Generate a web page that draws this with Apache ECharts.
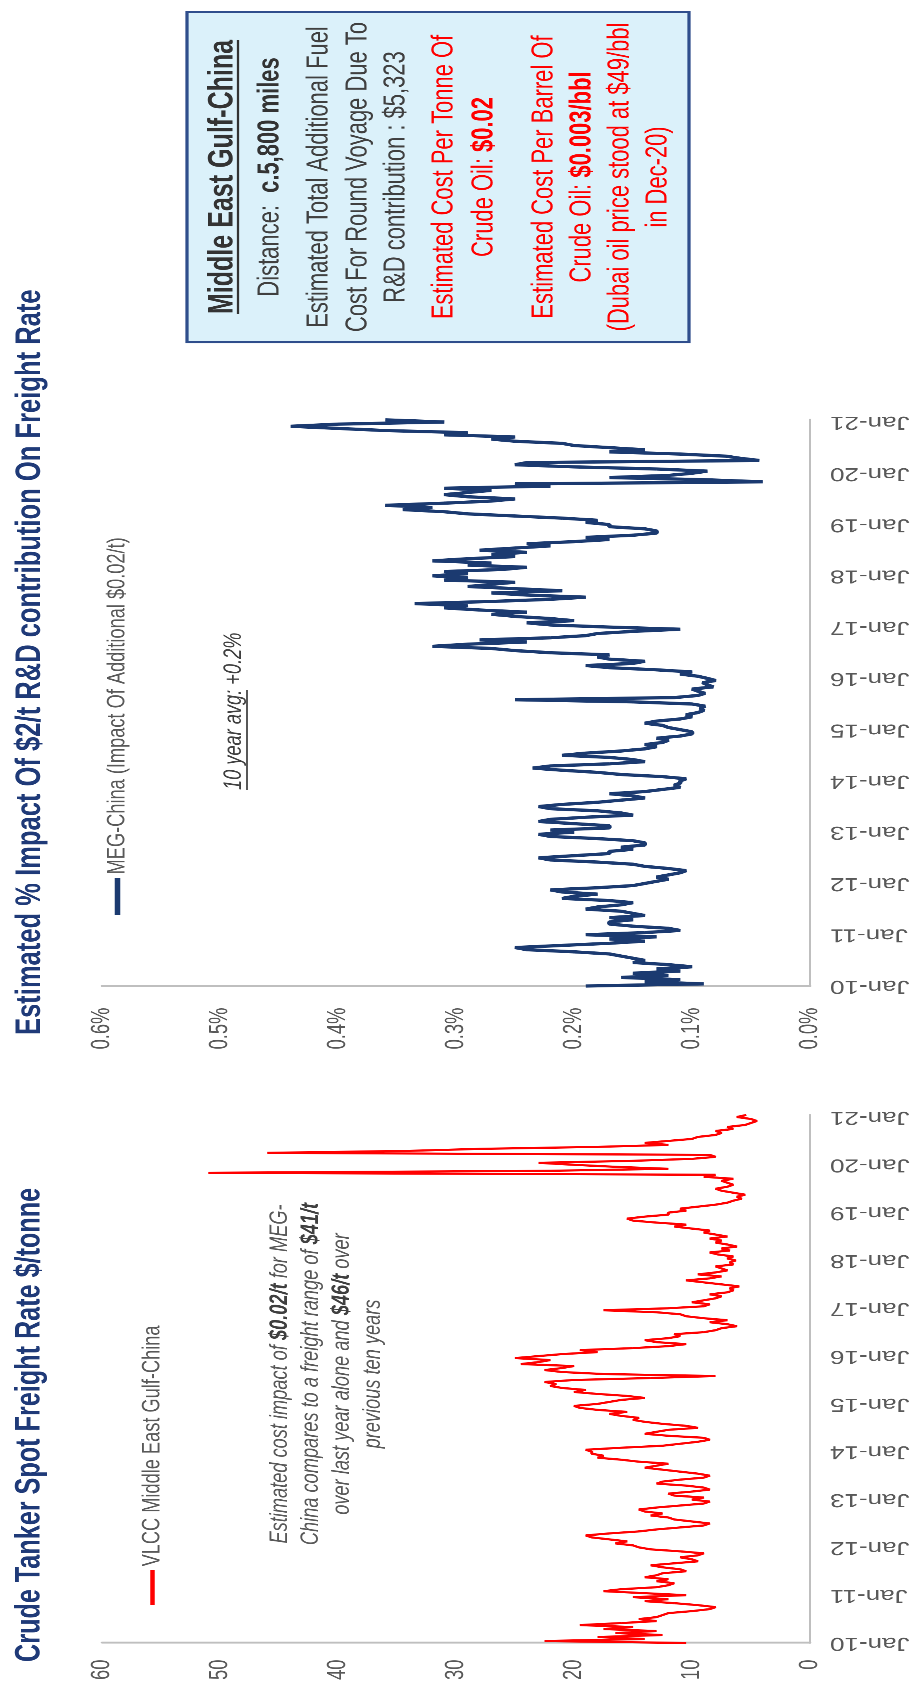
<!DOCTYPE html>
<html>
<head>
<meta charset="utf-8">
<script src="https://cdn.jsdelivr.net/npm/echarts@6/dist/echarts.min.js"></script>
<style>
  html, body { margin: 0; padding: 0; background: #fff; width: 914px; height: 1684px; overflow: hidden; }
  #stage { position: absolute; left: 0; top: 0; width: 914px; height: 1684px; overflow: hidden; }
  /* the two charts are laid out side by side (narrowed a little), then turned a quarter turn anticlockwise */
  #chart { position: absolute; left: 0; top: 0; width: 2339px; height: 914px;
           transform-origin: 0 0; transform: translate(0, 1684px) rotate(-90deg) scaleX(0.72); }
</style>
</head>
<body>
<div id="stage"><div id="chart"></div></div>
<script>
// ---- data: half-monthly readings from Jan-10 onwards ----
const yearLabels = ['Jan-10','Jan-11','Jan-12','Jan-13','Jan-14','Jan-15','Jan-16','Jan-17','Jan-18','Jan-19','Jan-20','Jan-21'];

// VLCC Middle East Gulf-China spot freight, $/tonne
const vlcc2010 = [10.5, 22.5, 14, 18, 12.5, 16.5, 13, 17.5, 15, 19.5, 16, 13, 14.5, 13, 12.5, 12, 10, 8.5, 8, 9.5, 11.5, 14, 12, 15];
const vlcc2011 = [10.5, 14, 17.5, 16, 13, 12, 11.5, 13, 12, 14, 13, 12.5, 10.5, 11, 12.5, 13.5, 11.5, 9.5, 10, 11, 9.5, 9, 11, 13.5];
const vlcc2012 = [14.5, 15, 16.5, 15.5, 17, 18.5, 19, 17, 14.5, 13, 11, 9, 8.5, 10, 11.5, 12, 13.5, 12.5, 14, 14.5, 13, 11, 9, 8.5];
const vlcc2013 = [10, 9, 11.5, 12, 10, 8.5, 9, 10.5, 13, 12.5, 11, 9, 8.5, 9.5, 11, 12.5, 14, 13, 12, 14.5, 16, 18, 17.5, 18.5];
const vlcc2014 = [18.5, 19, 16, 12.5, 11, 9.5, 8.5, 9, 12, 14, 13, 12, 9.5, 10.5, 12.5, 14, 15, 14.5, 16, 17, 15.5, 18, 19.5, 20];
const vlcc2015 = [18, 17, 16, 14, 15.5, 18, 20, 19, 21, 22, 21.5, 22.5, 20, 13.5, 8, 17.5, 21, 22.5, 21, 20, 24.5, 23, 22, 25];
const vlcc2016 = [23, 21, 18, 19.5, 15, 12, 10.5, 13, 14, 12, 11, 11.5, 9, 8, 7.5, 6.2, 7, 8.5, 7, 9, 10.5, 11, 13, 17.5];
const vlcc2017 = [12, 9, 8.5, 10, 9, 8, 7.5, 8.5, 7, 6.5, 6.8, 6, 7.5, 9, 10.5, 8.5, 7.5, 9.5, 8, 7, 7.5, 8, 6.5, 6.8];
const vlcc2018 = [6.3, 7, 6.5, 7.8, 8.5, 6.8, 7.5, 6.2, 7, 8, 7.5, 8.5, 7, 8, 9, 8.5, 10, 11.5, 10.5, 13, 15, 15.5, 14, 12];
const vlcc2019 = [12, 10.5, 11, 9.5, 8, 7, 6.5, 5.8, 6.2, 5.5, 6.5, 7.5, 8, 7, 6.5, 7, 7.5, 6.5, 9, 8, 51, 22, 12, 16.5];
const vlcc2020 = [20, 23, 15, 10, 8, 8.5, 46, 34, 28, 18, 12, 14, 12, 10, 9.5, 8, 7.5, 8, 6.5, 7, 5.5, 5, 4.5, 5];
const vlcc2021 = [6.2, 5.4];

// MEG-China: impact of an additional $0.02/t, % of freight
const impact2010 = [0.19, 0.09, 0.14, 0.11, 0.16, 0.12, 0.15, 0.11, 0.13, 0.10, 0.12, 0.15, 0.14, 0.15, 0.16, 0.17, 0.20, 0.24, 0.25, 0.21, 0.17, 0.14, 0.17, 0.13];
const impact2011 = [0.19, 0.14, 0.11, 0.12, 0.15, 0.17, 0.17, 0.15, 0.17, 0.14, 0.15, 0.16, 0.19, 0.18, 0.16, 0.15, 0.17, 0.21, 0.20, 0.18, 0.21, 0.22, 0.18, 0.15];
const impact2012 = [0.14, 0.13, 0.12, 0.13, 0.12, 0.11, 0.105, 0.12, 0.14, 0.15, 0.18, 0.22, 0.23, 0.20, 0.17, 0.17, 0.15, 0.16, 0.14, 0.14, 0.15, 0.18, 0.22, 0.23];
const impact2013 = [0.20, 0.22, 0.17, 0.17, 0.20, 0.23, 0.22, 0.19, 0.15, 0.16, 0.18, 0.22, 0.23, 0.21, 0.18, 0.16, 0.14, 0.15, 0.17, 0.14, 0.125, 0.11, 0.115, 0.11];
const impact2014 = [0.11, 0.105, 0.125, 0.16, 0.18, 0.21, 0.235, 0.22, 0.17, 0.14, 0.15, 0.17, 0.21, 0.19, 0.16, 0.14, 0.13, 0.14, 0.125, 0.12, 0.13, 0.11, 0.10, 0.10];
const impact2015 = [0.11, 0.12, 0.125, 0.14, 0.13, 0.11, 0.10, 0.105, 0.095, 0.09, 0.093, 0.089, 0.10, 0.15, 0.25, 0.115, 0.095, 0.089, 0.095, 0.10, 0.082, 0.087, 0.091, 0.08];
const impact2016 = [0.087, 0.095, 0.11, 0.10, 0.13, 0.17, 0.19, 0.15, 0.14, 0.17, 0.18, 0.17, 0.22, 0.25, 0.27, 0.32, 0.29, 0.24, 0.28, 0.22, 0.19, 0.18, 0.15, 0.11];
const impact2017 = [0.17, 0.22, 0.24, 0.20, 0.22, 0.25, 0.27, 0.24, 0.28, 0.31, 0.29, 0.335, 0.27, 0.22, 0.19, 0.24, 0.27, 0.21, 0.25, 0.29, 0.27, 0.25, 0.31, 0.29];
const impact2018 = [0.32, 0.29, 0.31, 0.26, 0.24, 0.29, 0.27, 0.32, 0.29, 0.25, 0.27, 0.24, 0.28, 0.25, 0.22, 0.24, 0.20, 0.17, 0.19, 0.15, 0.13, 0.13, 0.14, 0.17];
const impact2019 = [0.17, 0.19, 0.18, 0.21, 0.25, 0.29, 0.31, 0.345, 0.32, 0.36, 0.31, 0.27, 0.25, 0.29, 0.31, 0.29, 0.27, 0.31, 0.22, 0.25, 0.04, 0.09, 0.17, 0.12];
const impact2020 = [0.10, 0.087, 0.13, 0.20, 0.25, 0.24, 0.043, 0.059, 0.071, 0.11, 0.17, 0.14, 0.17, 0.20, 0.21, 0.25, 0.27, 0.25, 0.31, 0.29, 0.36, 0.40, 0.44, 0.40];
const impact2021 = [0.31, 0.36];

const freightTicks = [0, 10, 20, 30, 40, 50, 60];
const impactTicks = [0, 0.1, 0.2, 0.3, 0.4, 0.5, 0.6];

// ---- build [years since Jan-10, value] pairs ----
function halfMonthly(chunks) {
  const out = [];
  let i = 0;
  chunks.forEach(arr => arr.forEach(v => { out.push([i / 24, v]); i++; }));
  return out;
}
const vlccData = halfMonthly([vlcc2010, vlcc2011, vlcc2012, vlcc2013, vlcc2014, vlcc2015, vlcc2016, vlcc2017, vlcc2018, vlcc2019, vlcc2020, vlcc2021]);
const impactData = halfMonthly([impact2010, impact2011, impact2012, impact2013, impact2014, impact2015, impact2016, impact2017, impact2018, impact2019, impact2020, impact2021]);

// ---- layout helpers: the canvas is drawn landscape, narrowed by K and turned upright ----
const K = 0.72;
const PAGE_H = 1684;
const along = py => (PAGE_H - py) / K;   // page height position -> canvas x

const FONT = "'Liberation Sans', Arial, Helvetica, sans-serif";
const GREY = '#595959';
const NAVY = '#1F3A78';
const AXIS = '#BFBFBF';

const measure = document.createElement('canvas').getContext('2d');
function textWidth(str, font) { measure.font = font; return measure.measureText(str).width; }

const X_MAX = 11.05;
function gridFor(pyStart, pyJan21) {
  const left = along(pyStart);
  const perYear = (along(pyJan21) - left) / 11;
  return { left: left, top: 102, width: perYear * X_MAX, height: 708 };
}

function dateAxis(grid) {
  return {
    type: 'value', gridIndex: grid, min: 0, max: X_MAX, interval: 1,
    axisLine: { show: true, lineStyle: { color: AXIS, width: 2 } },
    axisTick: { show: false }, splitLine: { show: false },
    axisLabel: {
      rotate: 90, margin: 20, fontSize: 26, color: GREY, fontFamily: FONT,
      showMaxLabel: false,
      formatter: v => {
        const r = Math.round(v);
        return (Math.abs(v - r) < 1e-6 && r < yearLabels.length) ? yearLabels[r] : '';
      }
    }
  };
}
function valueAxis(grid, ticks, fmt, margin) {
  return {
    type: 'value', gridIndex: grid, min: ticks[0], max: ticks[ticks.length - 1],
    interval: ticks[1] - ticks[0],
    axisLine: { show: true, lineStyle: { color: AXIS, width: 2.6 } },
    axisTick: { show: false }, splitLine: { show: false },
    axisLabel: { fontSize: 25.5, color: GREY, fontFamily: FONT, margin: margin, formatter: fmt }
  };
}

// ---- annotations ----
const graphics = [];
function addText(x, y, text, style) {
  graphics.push({ type: 'text', x: x, y: y, z: 20, silent: true,
    style: Object.assign({ text: text, fontFamily: FONT, verticalAlign: 'middle' }, style) });
}
function addLine(x1, y1, x2, y2, color, w) {
  graphics.push({ type: 'line', z: 20, silent: true,
    shape: { x1: x1, y1: y1, x2: x2, y2: y2 }, style: { stroke: color, lineWidth: w } });
}

// chart titles
addText(along(1662), 30, 'Crude Tanker Spot Freight Rate $/tonne',
  { fontSize: 35, fontWeight: 'bold', fill: NAVY, align: 'left' });
addText(along(1035), 30, 'Estimated % Impact Of $2/t R&D contribution On Freight Rate',
  { fontSize: 35.5, fontWeight: 'bold', fill: NAVY, align: 'left' });

// cost note on the freight chart
const NOTE_SIZE = 25.3;
const noteRich = { b: { fontSize: NOTE_SIZE, fontFamily: FONT, fontStyle: 'italic', fontWeight: 'bold', fill: '#3F3F3F' } };
const noteLines = [
  'Estimated cost impact of {b|$0.02/t} for MEG-',
  'China compares to a freight range of {b|$41/t}',
  'over last year alone and {b|$46/t} over',
  'previous ten years'
];
noteLines.forEach((t, i) => addText(along(1374), 280 + i * 31, t,
  { fontSize: NOTE_SIZE, fontStyle: 'italic', fill: GREY, align: 'center', rich: noteRich }));

// ten-year average on the impact chart
const avgX = along(790);
addText(avgX, 234, '10 year avg: +0.2%', { fontSize: NOTE_SIZE, fontStyle: 'italic', fill: '#404040', align: 'left' });
addLine(avgX, 247, avgX + textWidth('10 year avg:', 'italic ' + NOTE_SIZE + 'px ' + FONT), 247, '#404040', 1.8);

// route box
const boxX0 = along(342), boxX1 = along(12);
const BOX_CX = (boxX0 + boxX1) / 2;
graphics.push({ type: 'rect', z: 18, silent: true,
  shape: { x: boxX0, y: 187, width: boxX1 - boxX0, height: 502 },
  style: { fill: '#DBF1FA', stroke: '#2F4E8C', lineWidth: 3.2 } });
const TITLE_SIZE = 34.8, BODY_SIZE = 30.5;
const boxTitle = 'Middle East Gulf-China';
addText(BOX_CX, 223, boxTitle, { fontSize: TITLE_SIZE, fontWeight: 'bold', fill: '#333333', align: 'center' });
const tw = textWidth(boxTitle, 'bold ' + TITLE_SIZE + 'px ' + FONT);
addLine(BOX_CX - tw / 2, 238, BOX_CX + tw / 2, 238, '#333333', 2.2);

const boldDark = { b: { fontSize: BODY_SIZE, fontFamily: FONT, fontWeight: 'bold', fill: '#333333' } };
const boldRed = { b: { fontSize: BODY_SIZE, fontFamily: FONT, fontWeight: 'bold', fill: '#FF0000' } };
const boxLines = [
  ['Distance:  {b|c.5,800 miles}', '#404040', boldDark, 270],
  ['Estimated Total Additional Fuel', '#404040', boldDark, 319],
  ['Cost For Round Voyage Due To', '#404040', boldDark, 358],
  ['R&D contribution : $5,323', '#404040', boldDark, 396],
  ['Estimated Cost Per Tonne Of', '#FF0000', boldRed, 444],
  ['Crude Oil: {b|$0.02}', '#FF0000', boldRed, 484],
  ['Estimated Cost Per Barrel Of', '#FF0000', boldRed, 544],
  ['Crude Oil: {b|$0.003/bbl}', '#FF0000', boldRed, 582],
  ['(Dubai oil price stood at $49/bbl', '#FF0000', boldRed, 620],
  ['in Dec-20)', '#FF0000', boldRed, 658]
];
boxLines.forEach(l => addText(BOX_CX, l[3], l[0], { fontSize: BODY_SIZE, fill: l[1], align: 'center', rich: l[2] }));

// ---- chart ----
const LEGEND_SIZE = 25.3;
const chart = echarts.init(document.getElementById('chart'), null, { renderer: 'canvas', devicePixelRatio: 2 });
chart.setOption({
  animation: false,
  backgroundColor: '#ffffff',
  grid: [gridFor(1643, 1117), gridFor(986, 422)],
  xAxis: [dateAxis(0), dateAxis(1)],
  yAxis: [
    valueAxis(0, freightTicks, v => String(v), 23),
    valueAxis(1, impactTicks, v => v.toFixed(1) + '%', 30)
  ],
  legend: [
    { data: ['VLCC Middle East Gulf-China'], left: along(1605), top: 140, padding: 0,
      icon: 'rect', itemWidth: along(1570) - along(1605), itemHeight: 4.5, itemGap: 4,
      textStyle: { fontSize: LEGEND_SIZE, color: GREY, fontFamily: FONT } },
    { data: ['MEG-China (Impact Of Additional $0.02/t)'], left: along(915), top: 105, padding: 0,
      icon: 'rect', itemWidth: along(878) - along(915), itemHeight: 5.5, itemGap: 4,
      textStyle: { fontSize: LEGEND_SIZE, color: GREY, fontFamily: FONT } }
  ],
  series: [
    { type: 'line', name: 'VLCC Middle East Gulf-China', xAxisIndex: 0, yAxisIndex: 0,
      data: vlccData, showSymbol: false, symbol: 'none',
      lineStyle: { color: '#FF0000', width: 3 }, itemStyle: { color: '#FF0000' } },
    { type: 'line', name: 'MEG-China (Impact Of Additional $0.02/t)', xAxisIndex: 1, yAxisIndex: 1,
      data: impactData, showSymbol: false, symbol: 'none',
      lineStyle: { color: '#1B3A70', width: 4.5 }, itemStyle: { color: '#1B3A70' } }
  ],
  graphic: graphics
});
</script>
</body>
</html>
